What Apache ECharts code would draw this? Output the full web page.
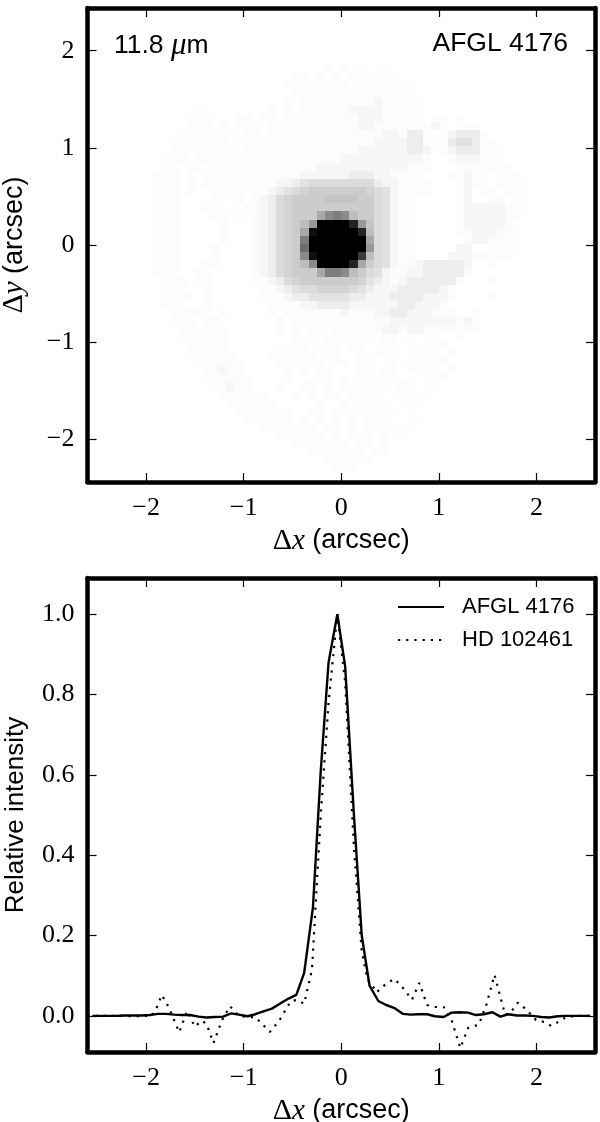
<!DOCTYPE html>
<html>
<head>
<meta charset="utf-8">
<style>html,body{margin:0;padding:0;background:#fff}#main{width:600px;height:1122px}</style>
<script src="https://cdn.jsdelivr.net/npm/echarts@6/dist/echarts.min.js"></script>
</head>
<body>
<div id="main"></div>
<script>
// image levels, 0 = white, z = black (base 36), top row first
var imageTopRow = 22;
var imageLeftCol = -24;
var imageCell = 0.0838;
var imageRows = [
"000000000000000000000010101001000000000000000000",
"000000000000000000110101010110100000000000000000",
"000000000000000001111111101111011000000000000000",
"000000000000000000111111111111111000000000000000",
"000000000000000001011111111121111100000000000000",
"000000100000000101011111122221111100000000000000",
"000001110001101101111111112221111101101000000000",
"000001110101110111111111112211111112101110000000",
"000011101110110111111111111112213310123331000000",
"000111011101111111111111111122223310134431100000",
"000110101110111111111111112222223320123331100000",
"001110111111111111111111222222222210012221110000",
"001101101011111111111222222222221110001111111000",
"011101011111111111122222233322111100011211011100",
"011101011111111122345555555532211110001211011100",
"011101001111011234567777777654211110001201101100",
"011100001101012356777788887754211000001200110100",
"011100011000112356777777777754211000001222221100",
"011100001101012356777cgig97754211000001222221100",
"01110000010001235679ezzzzue854211000001222221000",
"0111000001000123567cxzzzzzu954211000001122211000",
"0111000001000123567izzzzzzzc54211000000122111000",
"0111000010000123567kzzzzzzze54211000002200111000",
"0111000010000123567gxzzzzzr954211000022211111000",
"01110001100001235679gzzzzuc754211233333200100000",
"011100110000012356777ciig97542112233333100000000",
"001110110000011235677777776432123333331000100000",
"001110010000001123455666654322233333210000000000",
"001111010000001112334444433222333322210000100000",
"001110010000000111122333322222233222100000000000",
"000111110100000101111111211122332221110010000000",
"000111011000000010111111111111222222221210000000",
"000011011100000010101101111112212211111110000000",
"000011101100000000111011111101101011001000000000",
"000001111100000010110111011001101001100000000000",
"000001111110000101011011001011000101010000000000",
"000000111111000010101101101100101001100000000000",
"000000011211000001010110001001101101010000000000",
"000000011111100001000110101101100010100000000000",
"000000001121100010011010111011011001000000000000",
"000000000111111000101011010110010110000000000000",
"000000000011111100000100101101001100000000000000",
"000000000001111111001101111010101000000000000000",
"000000000000111111010101010101000100000000000000",
"000000000000001111111011010110101000000000000000",
"000000000000000011111101010101010000000000000000",
"000000000000000000111111101101000000000000000000",
"000000000000000000001111111011000000000000000000",
"000000000000000000000011111100000000000000000000",
"000000000000000000000001110000000000000000000000"
];
// the three palest levels sit closer to white than the rest of the ramp
var faintLevels = { 1: 0.45, 2: 1.3, 3: 2.5 };

// radial profiles
var afglX = [-2.55,-2.47,-2.38,-2.30,-2.22,-2.13,-2.05,-1.96,-1.88,-1.80,-1.71,-1.63,-1.55,-1.46,-1.38,-1.30,-1.21,-1.13,-1.05,-0.96,-0.88,-0.79,-0.71,-0.63,-0.54,-0.46,-0.38,-0.29,-0.21,-0.13,-0.04,0.04,0.13,0.21,0.29,0.38,0.46,0.54,0.63,0.71,0.79,0.88,0.96,1.05,1.13,1.21,1.30,1.38,1.46,1.55,1.63,1.71,1.80,1.88,1.96,2.05,2.13,2.22,2.30,2.38,2.47,2.55];
var afglY = [0,0,0,0,0.001,0.001,0.001,0.002,0.005,0.005,0.003,0.002,0.002,-0.002,-0.004,-0.003,-0.002,0.006,0.003,-0.001,0.004,0.012,0.018,0.03,0.043,0.052,0.107,0.27,0.61,0.88,1.0,0.87,0.5,0.2,0.075,0.037,0.027,0.02,0.005,0.003,0.004,0.004,-0.001,-0.003,0.008,0.009,0.008,0.002,0.004,0.009,-0.002,0.004,0.001,0.001,0,-0.003,-0.004,-0.001,0,0,0,0];
var hdX = [-2.6,-2.3,-2.1,-2.0,-1.95,-1.89,-1.84,-1.79,-1.74,-1.66,-1.58,-1.50,-1.43,-1.38,-1.31,-1.22,-1.14,-1.05,-0.96,-0.88,-0.73,-0.63,-0.52,-0.45,-0.38,-0.30,-0.21,-0.13,-0.04,0.04,0.13,0.21,0.27,0.315,0.36,0.46,0.545,0.63,0.725,0.80,0.88,0.96,1.05,1.13,1.22,1.30,1.41,1.49,1.57,1.68,1.74,1.81,1.90,2.0,2.08,2.15,2.21,2.29,2.4,2.6];
var hdY = [0,0,-0.001,0,-0.002,0.021,0.052,0.032,0.005,-0.041,0.012,-0.027,-0.012,-0.02,-0.068,-0.01,0.024,0,-0.003,-0.003,-0.04,-0.01,0.036,0.04,0.03,0.115,0.5,0.78,1.0,0.83,0.42,0.16,0.09,0.077,0.058,0.08,0.092,0.07,0.04,0.082,0.027,0.022,0.022,-0.01,-0.08,-0.03,-0.022,0.03,0.102,0.002,0.01,0.033,0.015,-0.012,-0.015,-0.025,-0.017,-0.005,0,0];

var xTicks = [-2, -1, 0, 1, 2];
var yTicksImage = [-2, -1, 0, 1, 2];
var yTicksProfile = [0, 0.2, 0.4, 0.6, 0.8, 1.0];

var SERIF = '"Liberation Serif", serif';
var SANS = '"Liberation Sans", sans-serif';
var FS = 26;

var cells = [];
imageRows.forEach(function (row, i) {
    for (var j = 0; j < row.length; j++) {
        var level = parseInt(row[j], 36);
        if (level > 0) {
            cells.push([(imageLeftCol + j) * imageCell, (imageTopRow - i) * imageCell + 0.01, faintLevels[level] || level]);
        }
    }
});

function zip(a, b) {
    return a.map(function (v, i) { return [v, b[i]]; });
}

function minusFmt(v) {
    return String(v).replace('-', '\u2212');
}

var nameRich = {
    d: { fontFamily: SERIF, fontSize: 30, color: '#000' },
    v: { fontFamily: SERIF, fontStyle: 'italic', fontSize: 29, color: '#000' },
    t: { fontFamily: SANS, fontSize: 27, color: '#000' }
};

function makeAxis(grid, position, min, max, ticks, labelled, name, fmt, gap) {
    return {
        type: 'value',
        gridIndex: grid,
        position: position,
        min: min,
        max: max,
        z: 5,
        name: name || '',
        nameLocation: 'middle',
        nameGap: gap,
        nameRotate: (position === 'left') ? 90 : 0,
        nameTextStyle: { rich: nameRich, fontFamily: SANS, fontSize: FS, color: '#000' },
        splitLine: { show: false },
        axisLine: { show: true, onZero: false, lineStyle: { color: '#000', width: 4.5 } },
        axisTick: { show: true, inside: true, length: 9, customValues: ticks, lineStyle: { color: '#000', width: 1.2 } },
        axisLabel: {
            show: labelled,
            customValues: ticks,
            formatter: fmt || minusFmt,
            margin: 13,
            color: '#000',
            fontFamily: SERIF,
            fontSize: FS,
            showMinLabel: true,
            showMaxLabel: true
        }
    };
}

var xName = '{d|\u0394}{v|x} {t|(arcsec)}';

var option = {
    animation: false,
    backgroundColor: '#fff',
    grid: [
        { left: 87.5, top: 8, width: 507.5, height: 474, outerBoundsMode: 'none' },
        { left: 87.5, top: 578, width: 507.5, height: 474, outerBoundsMode: 'none' }
    ],
    title: [
        {
            left: 109, top: 25,
            text: '11.8 {m|\u03bc}m',
            textStyle: {
                fontFamily: SANS, fontSize: 26.5, fontWeight: 'normal', color: '#000',
                rich: { m: { fontFamily: SERIF, fontStyle: 'italic', fontSize: 31, color: '#000' } }
            }
        },
        {
            right: 27, top: 25,
            text: 'AFGL 4176',
            textStyle: { fontFamily: SANS, fontSize: 26.5, fontWeight: 'normal', color: '#000' }
        }
    ],
    legend: {
        left: 397, top: 596,
        padding: 0,
        orient: 'vertical',
        icon: 'inherit',
        itemWidth: 46,
        itemHeight: 12,
        itemGap: 11,
        itemStyle: { opacity: 0 },
        data: ['AFGL 4176', 'HD 102461'],
        textStyle: { fontFamily: SANS, fontSize: 22, color: '#000', padding: [0, 0, 0, 13] },
        selectedMode: false
    },
    visualMap: {
        show: false,
        seriesIndex: 0,
        dimension: 2,
        min: 0,
        max: 35,
        inRange: { color: ['#ffffff', '#000000'] }
    },
    xAxis: [
        makeAxis(0, 'bottom', -2.6, 2.6, xTicks, true, xName, null, 44),
        makeAxis(0, 'top', -2.6, 2.6, xTicks, false),
        makeAxis(1, 'bottom', -2.6, 2.6, xTicks, true, xName, null, 44),
        makeAxis(1, 'top', -2.6, 2.6, xTicks, false)
    ],
    yAxis: [
        makeAxis(0, 'left', -2.44, 2.44, yTicksImage, true, '{d|\u0394}{v|y} {t|(arcsec)}', null, 58),
        makeAxis(0, 'right', -2.44, 2.44, yTicksImage, false),
        makeAxis(1, 'left', -0.09, 1.09, yTicksProfile, true, 'Relative intensity', function (v) { return v.toFixed(1); }, 59),
        makeAxis(1, 'right', -0.09, 1.09, yTicksProfile, false)
    ],
    series: [
        {
            type: 'custom',
            xAxisIndex: 0,
            yAxisIndex: 0,
            data: cells,
            encode: { x: 0, y: 1 },
            silent: true,
            renderItem: function (params, api) {
                var a = api.coord([api.value(0), api.value(1)]);
                var b = api.coord([api.value(0) + imageCell, api.value(1) - imageCell]);
                var x0 = Math.round(a[0]), y0 = Math.round(a[1]);
                return {
                    type: 'rect',
                    shape: { x: x0, y: y0, width: Math.round(b[0]) - x0, height: Math.round(b[1]) - y0 },
                    style: { fill: api.visual('color') }
                };
            }
        },
        {
            name: 'AFGL 4176',
            type: 'line',
            xAxisIndex: 2,
            yAxisIndex: 2,
            data: zip(afglX, afglY),
            symbol: 'none',
            itemStyle: { color: '#000' },
            lineStyle: { color: '#000', width: 2.4 }
        },
        {
            name: 'HD 102461',
            type: 'line',
            xAxisIndex: 2,
            yAxisIndex: 2,
            data: zip(hdX, hdY),
            symbol: 'none',
            itemStyle: { color: '#000' },
            lineStyle: { color: '#000', width: 2.2, type: [2.2, 6] }
        }
    ]
};

var myChart = echarts.init(document.getElementById('main'), null, { renderer: 'canvas' });
myChart.setOption(option);
</script>
</body>
</html>
